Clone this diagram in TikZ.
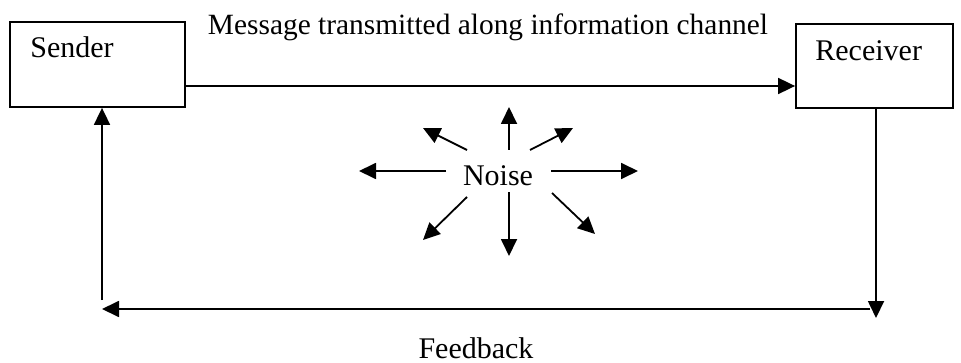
\documentclass[tikz,border=0pt]{standalone}
\usepackage{fontspec}
\setmainfont{Liberation Serif}
\usetikzlibrary{arrows.meta}
\tikzset{>={Triangle[width=8pt,length=8.5pt]}}
\tikzset{
  box/.style={draw, line width=0.9pt, inner sep=0pt},
  txt/.style={inner sep=0pt, font=\fontsize{15}{18}\selectfont},
  arr/.style={->, line width=0.9pt}
}

\begin{document}
\begin{tikzpicture}[x=0.5pt,y=-0.5pt]
  \useasboundingbox (0,0) rectangle (961,363);
  % Boxes for sender and receiver
  \node[box, minimum width=87.5pt, minimum height=42.5pt] (sender) at (97.5,64.5) {};
  \node[txt, anchor=base west] (sendertxt) at (30,58) {Sender};
  \node[box, minimum width=78.5pt, minimum height=42pt] (receiver) at (874.5,66) {};
  \node[txt, anchor=base west] (receivertxt) at (815,61) {Receiver};
  % Labels
  \node[txt, anchor=base, font=\fontsize{14.7}{18}\selectfont] (channel) at (488,35) {Message transmitted along information channel};
  \node[txt, anchor=base] (feedback) at (476,358) {Feedback};
  \node[txt, anchor=base] (noise) at (498,185) {Noise};
  % Message channel
  \draw[arr] (sender.east |- 0,86) -- (receiver.west |- 0,86);
  % Feedback loop
  \coordinate (fbdown) at (876,318);
  \coordinate (fbright) at (870,309);
  \coordinate (fbleft) at (102,309);
  \coordinate (fbup) at (102,300);
  \draw[arr] (receiver.south -| fbdown) -- (fbdown);
  \draw[arr] (fbright) -- (fbleft);
  \draw[arr] (fbup) -- (sender.south -| fbup);
  % Noise spreading out in all directions
  \foreach \sx/\sy/\ex/\ey [count=\i] in {446/171/359/171, 551/171/638/171,
      509/150/509/107, 509/192/509/256, 467/150/423/128, 530/150/573/128,
      467/197/423/240, 552/193/595/234} {
    \coordinate (ns\i) at (\sx,\sy);
    \coordinate (ne\i) at (\ex,\ey);
    \draw[arr] (ns\i) -- (ne\i); }
\end{tikzpicture}
\end{document}
